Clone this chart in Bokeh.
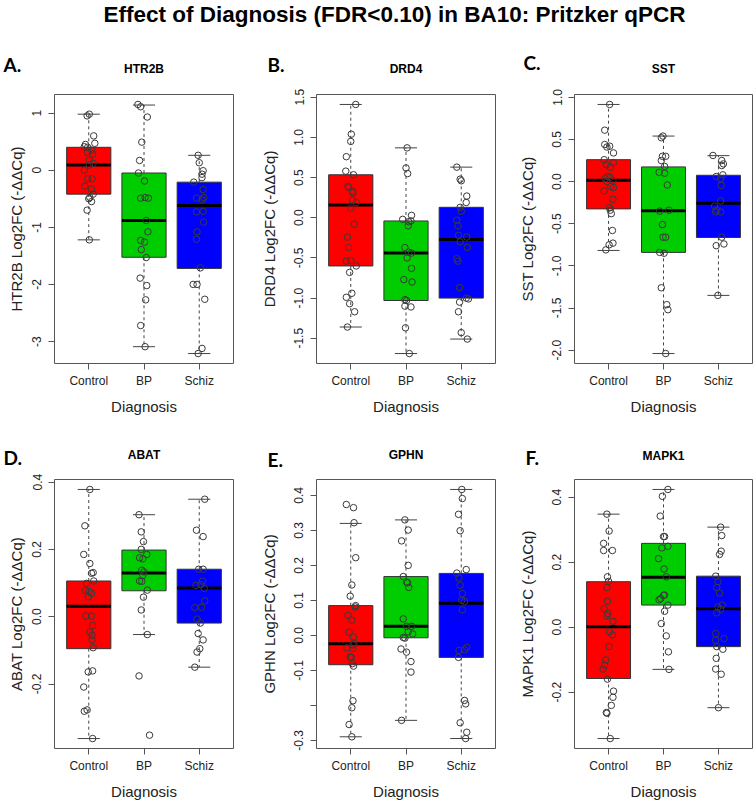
from bokeh.plotting import figure
from bokeh.models import Range1d, FixedTicker, Label, ColumnDataSource, PrintfTickFormatter
from bokeh.layouts import column, row
from bokeh.embed import file_html
from bokeh.resources import INLINE

# ---------------- data ----------------
TITLE = "Effect of Diagnosis (FDR<0.10) in BA10: Pritzker qPCR"
groups = ["Control", "BP", "Schiz"]
group_pos = [1, 2, 3]
group_colors = ["#FF0000", "#00CD00", "#0000FF"]
letters = ["A.", "B.", "C.", "D.", "E.", "F."]
genes = ["HTR2B", "DRD4", "SST", "ABAT", "GPHN", "MAPK1"]
x_label = "Diagnosis"

# box stats per group: [lower whisker, Q1, median, Q3, upper whisker]
htr2b_box = [[-1.22, -0.42, 0.09, 0.40, 0.98], [-3.09, -1.525, -0.88, -0.05, 1.14], [-3.21, -1.72, -0.62, -0.21, 0.26]]
drd4_box = [[-1.36, -0.60, 0.16, 0.535, 1.41], [-1.69, -1.03, -0.44, -0.04, 0.87], [-1.51, -1.00, -0.27, 0.13, 0.63]]
sst_box = [[-0.817, -0.324, 0.016, 0.26, 0.915], [-2.04, -0.84, -0.347, 0.174, 0.54], [-1.35, -0.663, -0.257, 0.075, 0.308]]
abat_box = [[-0.362, -0.095, 0.031, 0.106, 0.378], [-0.053, 0.077, 0.130, 0.198, 0.303], [-0.150, -0.019, 0.085, 0.141, 0.349]]
gphn_box = [[-0.290, -0.084, -0.024, 0.085, 0.320], [-0.243, -0.007, 0.026, 0.168, 0.330], [-0.295, -0.063, 0.092, 0.177, 0.417]]
mapk1_box = [[-0.343, -0.158, 0.001, 0.140, 0.348], [-0.130, 0.068, 0.154, 0.258, 0.424], [-0.248, -0.060, 0.057, 0.157, 0.308]]

# individual samples (value, horizontal jitter in category units)
htr2b_ctrl_y = [0.98, 0.95, 0.60, 0.45, 0.47, 0.40, 0.41, 0.35, 0.31, 0.28, 0.17, 0.12, 0.09, 0.00, -0.15, -0.15, -0.28, -0.33, -0.42, -0.48, -0.50, -0.55, -0.70, -1.22]
htr2b_ctrl_dx = [0.01, -0.03, 0.09, -0.06, 0.11, -0.02, -0.08, 0.05, -0.02, 0.07, 0.01, 0.08, 0.01, -0.08, -0.02, 0.06, -0.07, 0.05, 0.08, 0.02, 0.00, 0.05, -0.03, 0.01]
htr2b_bp_y = [1.15, 1.11, 0.93, 0.49, 0.17, -0.05, -0.19, -0.49, -0.48, -0.49, -0.88, -1.08, -1.23, -1.26, -1.39, -1.53, -1.89, -2.02, -2.27, -2.72, -3.09]
htr2b_bp_dx = [-0.11, -0.06, 0.06, -0.04, -0.08, -0.10, 0.01, -0.06, 0.02, 0.08, 0.04, 0.07, -0.06, 0.01, -0.05, 0.04, -0.07, 0.05, 0.03, -0.06, 0.02]
htr2b_sz_y = [0.26, 0.13, -0.01, -0.07, -0.13, -0.21, -0.34, -0.49, -0.48, -0.52, -0.73, -0.72, -0.91, -1.08, -1.21, -1.71, -2.00, -2.00, -2.26, -3.12, -3.21]
htr2b_sz_dx = [-0.02, 0.00, 0.07, 0.05, 0.05, -0.10, 0.07, -0.05, 0.08, 0.05, -0.05, 0.07, 0.08, -0.04, -0.05, 0.02, -0.11, -0.04, 0.10, 0.05, -0.02]

drd4_ctrl_y = [1.41, 1.04, 0.95, 0.76, 0.58, 0.535, 0.39, 0.38, 0.33, 0.31, 0.22, 0.19, 0.12, -0.08, -0.24, -0.37, -0.54, -0.535, -0.60, -0.68, -0.94, -0.99, -1.07, -1.17, -1.36]
drd4_ctrl_dx = [0.09, 0.01, 0.00, -0.08, -0.09, 0.05, -0.05, -0.04, 0.03, 0.04, 0.03, 0.10, 0.00, 0.06, -0.06, -0.04, -0.08, 0.00, 0.10, -0.02, 0.02, -0.08, -0.02, 0.07, -0.06]
drd4_bp_y = [0.87, 0.62, 0.55, -0.02, 0.03, -0.04, -0.05, -0.10, -0.37, -0.43, -0.44, -0.50, -0.63, -0.77, -0.80, -1.02, -1.03, -1.10, -1.11, -1.37, -1.69]
drd4_bp_dx = [0.02, 0.00, 0.03, -0.06, 0.10, 0.09, 0.05, 0.04, -0.02, 0.05, 0.10, 0.02, 0.10, -0.04, 0.11, -0.02, 0.01, -0.02, 0.09, -0.01, 0.06]
drd4_sz_y = [0.63, 0.48, 0.46, 0.27, 0.19, 0.13, 0.08, -0.03, -0.10, -0.22, -0.24, -0.30, -0.37, -0.51, -0.54, -0.87, -1.00, -1.01, -1.05, -1.17, -1.43, -1.51]
drd4_sz_dx = [-0.08, -0.02, 0.00, 0.10, 0.09, -0.02, 0.00, -0.08, -0.06, -0.05, 0.10, -0.02, 0.11, -0.08, -0.06, -0.03, 0.09, 0.13, -0.03, -0.05, 0.00, 0.11]

sst_ctrl_y = [0.915, 0.61, 0.44, 0.41, 0.42, 0.34, 0.26, 0.225, 0.20, 0.17, 0.06, 0.035, 0.05, 0.016, 0.00, -0.06, -0.07, -0.11, -0.21, -0.31, -0.34, -0.38, -0.58, -0.75, -0.73, -0.81]
sst_ctrl_dx = [0.02, -0.07, -0.07, -0.03, 0.02, 0.09, -0.08, 0.09, -0.04, 0.03, -0.02, -0.06, 0.03, 0.08, -0.03, 0.04, 0.09, -0.08, 0.08, 0.02, 0.03, 0.05, 0.07, 0.01, 0.08, -0.05]
sst_bp_y = [0.54, 0.52, 0.30, 0.30, 0.25, 0.18, 0.11, 0.10, -0.04, -0.35, -0.34, -0.51, -0.66, -0.66, -0.84, -0.85, -1.26, -1.46, -1.52, -2.04]
sst_bp_dx = [-0.01, -0.04, -0.02, 0.04, -0.04, 0.02, -0.08, 0.02, 0.07, -0.07, 0.10, -0.02, -0.01, 0.04, -0.07, 0.01, -0.04, 0.06, 0.08, 0.04]
sst_sz_y = [0.31, 0.25, 0.21, 0.19, 0.08, 0.06, 0.035, -0.045, -0.23, -0.29, -0.34, -0.36, -0.36, -0.66, -0.76, -0.74, -1.35]
sst_sz_dx = [-0.10, 0.06, 0.09, 0.06, 0.08, -0.04, 0.04, 0.05, 0.04, -0.07, -0.03, -0.05, 0.04, 0.06, -0.04, 0.10, -0.01]

abat_ctrl_y = [0.378, 0.27, 0.185, 0.158, 0.129, 0.131, 0.106, 0.099, 0.078, 0.075, 0.069, 0.059, 0.002, 0.002, -0.026, -0.046, -0.055, -0.069, -0.092, -0.164, -0.161, -0.209, -0.281, -0.277, -0.362]
abat_ctrl_dx = [0.02, -0.07, -0.09, 0.02, 0.05, 0.08, 0.09, -0.04, -0.06, 0.01, 0.05, -0.01, -0.05, 0.05, 0.07, 0.02, 0.06, 0.06, 0.08, -0.01, 0.07, -0.09, -0.08, -0.03, 0.07]
abat_bp_y = [0.303, 0.252, 0.223, 0.200, 0.185, 0.175, 0.172, 0.138, 0.133, 0.123, 0.106, 0.105, 0.079, 0.058, 0.020, -0.053, -0.176, -0.352]
abat_bp_dx = [-0.09, -0.05, -0.01, -0.05, 0.05, -0.08, -0.02, -0.04, 0.00, -0.02, -0.08, -0.04, 0.06, -0.01, -0.05, 0.06, -0.09, 0.10]
abat_sz_y = [0.349, 0.257, 0.238, 0.141, 0.141, 0.106, 0.093, 0.095, 0.084, 0.047, 0.027, 0.028, -0.007, -0.019, -0.050, -0.069, -0.095, -0.105, -0.150]
abat_sz_dx = [0.10, -0.05, 0.07, -0.01, 0.07, 0.06, -0.06, 0.03, 0.09, 0.10, -0.08, 0.04, -0.04, 0.02, -0.02, 0.07, 0.01, -0.04, -0.08]

gphn_ctrl_y = [0.374, 0.365, 0.322, 0.222, 0.144, 0.112, 0.085, 0.081, 0.057, 0.043, 0.009, -0.005, -0.022, -0.027, -0.036, -0.037, -0.062, -0.063, -0.081, -0.088, -0.187, -0.207, -0.255, -0.290]
gphn_ctrl_dx = [-0.08, 0.05, 0.06, 0.09, 0.02, -0.01, 0.09, 0.08, -0.05, 0.02, -0.03, 0.05, 0.06, 0.04, -0.07, 0.04, -0.01, 0.01, 0.03, 0.05, 0.04, 0.02, -0.03, 0.02]
gphn_bp_y = [0.330, 0.301, 0.270, 0.200, 0.168, 0.152, 0.150, 0.137, 0.047, 0.026, 0.026, 0.010, 0.004, -0.006, -0.008, -0.039, -0.048, -0.075, -0.105, -0.243]
gphn_bp_dx = [-0.02, 0.04, -0.08, 0.04, -0.05, 0.01, 0.03, 0.05, -0.05, 0.01, 0.10, 0.04, 0.12, -0.05, -0.02, -0.09, 0.01, 0.09, 0.09, -0.08]
gphn_sz_y = [0.417, 0.391, 0.346, 0.299, 0.188, 0.178, 0.164, 0.143, 0.119, 0.100, 0.097, 0.073, -0.043, -0.041, -0.034, -0.063, -0.186, -0.196, -0.250, -0.277, -0.295]
gphn_sz_dx = [0.01, 0.02, -0.05, -0.02, 0.09, -0.08, -0.04, -0.02, 0.02, 0.01, 0.06, 0.02, -0.04, 0.06, 0.10, -0.05, 0.06, 0.08, -0.02, 0.10, 0.08]

mapk1_ctrl_y = [0.348, 0.296, 0.258, 0.236, 0.236, 0.155, 0.141, 0.122, 0.080, 0.057, 0.042, 0.035, 0.018, -0.014, -0.024, -0.060, -0.101, -0.117, -0.129, -0.160, -0.197, -0.216, -0.241, -0.263, -0.265, -0.343]
mapk1_ctrl_dx = [-0.03, 0.01, -0.09, -0.09, 0.07, -0.02, 0.00, -0.03, -0.02, -0.08, -0.01, -0.03, 0.08, 0.02, 0.07, 0.01, -0.05, -0.07, -0.10, -0.02, 0.09, 0.08, 0.05, -0.04, -0.03, 0.03]
mapk1_bp_y = [0.424, 0.403, 0.342, 0.279, 0.279, 0.249, 0.244, 0.211, 0.179, 0.155, 0.084, 0.088, 0.098, 0.099, 0.049, 0.068, 0.011, -0.027, -0.076, -0.130]
mapk1_bp_dx = [0.08, -0.02, -0.06, 0.00, 0.02, 0.08, -0.03, -0.09, 0.01, 0.05, -0.08, -0.05, 0.00, 0.02, 0.02, 0.08, -0.04, 0.05, 0.09, 0.10]
mapk1_sz_y = [0.308, 0.282, 0.234, 0.224, 0.157, 0.140, 0.122, 0.105, 0.068, 0.062, 0.055, 0.044, -0.020, -0.035, -0.040, -0.060, -0.068, -0.096, -0.129, -0.145, -0.248]
mapk1_sz_dx = [0.04, 0.06, 0.05, 0.02, -0.05, -0.01, -0.03, 0.02, 0.07, -0.01, 0.04, -0.03, -0.05, 0.10, -0.05, -0.03, 0.08, -0.04, -0.05, 0.05, 0.00]

# y-axis ticks and their labels ("" = tick without label)
htr2b_ticks = [-3, -2, -1, 0, 1]
htr2b_tick_labels = ["-3", "-2", "-1", "0", "1"]
drd4_ticks = [-1.5, -1.0, -0.5, 0.0, 0.5, 1.0, 1.5]
drd4_tick_labels = ["-1.5", "-1.0", "-0.5", "0.0", "0.5", "1.0", "1.5"]
sst_ticks = [-2.0, -1.5, -1.0, -0.5, 0.0, 0.5, 1.0]
sst_tick_labels = ["-2.0", "-1.5", "-1.0", "-0.5", "0.0", "0.5", "1.0"]
abat_ticks = [-0.2, 0.0, 0.2, 0.4]
abat_tick_labels = ["-0.2", "0.0", "0.2", "0.4"]
gphn_ticks = [-0.3, -0.2, -0.1, 0.0, 0.1, 0.2, 0.3, 0.4]
gphn_tick_labels = ["-0.3", "", "-0.1", "0.0", "0.1", "0.2", "0.3", "0.4"]
mapk1_ticks = [-0.2, 0.0, 0.2, 0.4]
mapk1_tick_labels = ["-0.2", "0.0", "0.2", "0.4"]

panels = [
    (htr2b_box, [(htr2b_ctrl_y, htr2b_ctrl_dx), (htr2b_bp_y, htr2b_bp_dx), (htr2b_sz_y, htr2b_sz_dx)], htr2b_ticks, htr2b_tick_labels),
    (drd4_box, [(drd4_ctrl_y, drd4_ctrl_dx), (drd4_bp_y, drd4_bp_dx), (drd4_sz_y, drd4_sz_dx)], drd4_ticks, drd4_tick_labels),
    (sst_box, [(sst_ctrl_y, sst_ctrl_dx), (sst_bp_y, sst_bp_dx), (sst_sz_y, sst_sz_dx)], sst_ticks, sst_tick_labels),
    (abat_box, [(abat_ctrl_y, abat_ctrl_dx), (abat_bp_y, abat_bp_dx), (abat_sz_y, abat_sz_dx)], abat_ticks, abat_tick_labels),
    (gphn_box, [(gphn_ctrl_y, gphn_ctrl_dx), (gphn_bp_y, gphn_bp_dx), (gphn_sz_y, gphn_sz_dx)], gphn_ticks, gphn_tick_labels),
    (mapk1_box, [(mapk1_ctrl_y, mapk1_ctrl_dx), (mapk1_bp_y, mapk1_bp_dx), (mapk1_sz_y, mapk1_sz_dx)], mapk1_ticks, mapk1_tick_labels),
]

# ---------------- layout / style ----------------
FONT = "Liberation Sans"
TOTAL_W = 753
COLS = [dict(w=252, bl=54, br=19, yso=5), dict(w=250, bl=64, br=7, yso=14),
        dict(w=251, bl=72, br=1, yso=14)]
ROWS = [dict(h=332, bt=8, bb=55), dict(h=331, bt=8, bb=53)]
HEAD_H = [86, 53]
# header text positions (x, y from top of header strip)
LETTER_XY = [(3, 64), (267, 63.5), (523, 62), (3, 38.5), (267, 41), (525, 39)]
GENE_XY = [(143.5, 68.5), (405.5, 68), (663, 68), (143.5, 36), (405.5, 36), (663, 37)]
TITLE_XY = (394, 14)
BOXW = 0.4
CAPW = 0.2


def header(h, items):
    p = figure(width=TOTAL_W, height=h, output_backend="svg", toolbar_location=None,
               title=None, x_axis_location=None, y_axis_location=None, min_border=0,
               min_border_left=0, min_border_right=0, min_border_top=0, min_border_bottom=0,
               x_range=Range1d(0, TOTAL_W), y_range=Range1d(h, 0))
    p.grid.visible = False
    p.outline_line_color = None
    for (x, y, txt, font, size) in items:
        p.add_layout(Label(x=x, y=y, text=txt, text_align="center" if font == FONT else "left",
                           text_baseline="middle", text_font=font, text_font_size=size,
                           text_font_style="bold", text_color="black"))
    return p


def make_panel(i):
    box, pts, yt, ytl = panels[i]
    c = COLS[i % 3]
    r = ROWS[i // 3]
    allv = [v for ys, _ in pts for v in ys] + [v for b in box for v in b]
    lo, hi = min(allv), max(allv)
    pad = 0.04 * (hi - lo)
    p = figure(width=c["w"], height=r["h"], x_range=Range1d(0.38, 3.62),
               y_range=Range1d(lo - pad, hi + pad), output_backend="svg", title=None,
               toolbar_location=None, min_border_left=c["bl"], min_border_right=c["br"],
               min_border_top=r["bt"], min_border_bottom=r["bb"])
    p.grid.visible = False
    p.outline_line_color = "#555555"
    p.outline_line_width = 1

    xs = group_pos
    src = ColumnDataSource(dict(x=xs, l=[x - BOXW for x in xs], r=[x + BOXW for x in xs],
                                cl=[x - CAPW for x in xs], cr=[x + CAPW for x in xs],
                                lw=[b[0] for b in box], q1=[b[1] for b in box],
                                md=[b[2] for b in box], q3=[b[3] for b in box],
                                uw=[b[4] for b in box], color=group_colors))
    p.segment(x0="x", y0="q3", x1="x", y1="uw", source=src, line_color="#444444",
              line_width=1, line_dash="3 3")
    p.segment(x0="x", y0="q1", x1="x", y1="lw", source=src, line_color="#444444",
              line_width=1, line_dash="3 3")
    p.segment(x0="cl", y0="uw", x1="cr", y1="uw", source=src, line_color="#444444", line_width=1)
    p.segment(x0="cl", y0="lw", x1="cr", y1="lw", source=src, line_color="#444444", line_width=1)
    p.quad(left="l", right="r", bottom="q1", top="q3", source=src, fill_color="color",
           line_color="#333333", line_width=1)
    p.segment(x0="l", y0="md", x1="r", y1="md", source=src, line_color="black",
              line_width=3, line_cap="butt")

    px, py = [], []
    for gx, (ys, dxs) in zip(xs, pts):
        for v, d in zip(ys, dxs):
            px.append(gx + d)
            py.append(v)
    p.scatter(px, py, marker="circle", size=6.5, fill_color=None, line_color="#3a3a3a",
              line_width=1)

    p.xaxis.ticker = FixedTicker(ticks=xs)
    p.xaxis.major_label_overrides = {x: g for x, g in zip(xs, groups)}
    p.yaxis.ticker = FixedTicker(ticks=yt)
    p.yaxis.formatter = PrintfTickFormatter(format="%d" if i == 0 else "%.1f")
    p.yaxis.major_label_overrides = {t: s for t, s in zip(yt, ytl)}
    p.yaxis.major_label_orientation = "vertical"
    for ax in (p.xaxis[0], p.yaxis[0]):
        ax.axis_line_color = None
        ax.major_tick_line_color = "#555555"
        ax.major_tick_out = 6
        ax.major_tick_in = 0
        ax.minor_tick_line_color = None
        ax.major_label_text_font = FONT
        ax.major_label_text_font_size = "12px"
        ax.major_label_text_color = "#222222"
        ax.axis_label_text_font = FONT
        ax.axis_label_text_font_size = "15px"
        ax.axis_label_text_font_style = "normal"
        ax.axis_label_text_color = "#222222"
    p.xaxis.major_label_standoff = 4
    p.xaxis.axis_label = x_label
    p.xaxis.axis_label_standoff = 7
    p.yaxis.major_label_standoff = 7
    p.yaxis.axis_label = f"{genes[i]} Log2FC (-\u0394\u0394Cq)"
    p.yaxis.axis_label_standoff = c["yso"]
    return p


head1_items = [(TITLE_XY[0], TITLE_XY[1], TITLE, FONT, "22.5px")]
head2_items = []
for i in range(6):
    tgt = head1_items if i < 3 else head2_items
    tgt.append((LETTER_XY[i][0], LETTER_XY[i][1], letters[i], "Lato", "19px"))
    tgt.append((GENE_XY[i][0], GENE_XY[i][1], genes[i], FONT, "12px"))

figs = [make_panel(i) for i in range(6)]
layout = column(header(HEAD_H[0], head1_items), row(*figs[:3]),
                header(HEAD_H[1], head2_items), row(*figs[3:]))

with open("out.html", "w") as f:
    f.write(file_html(layout, INLINE))
